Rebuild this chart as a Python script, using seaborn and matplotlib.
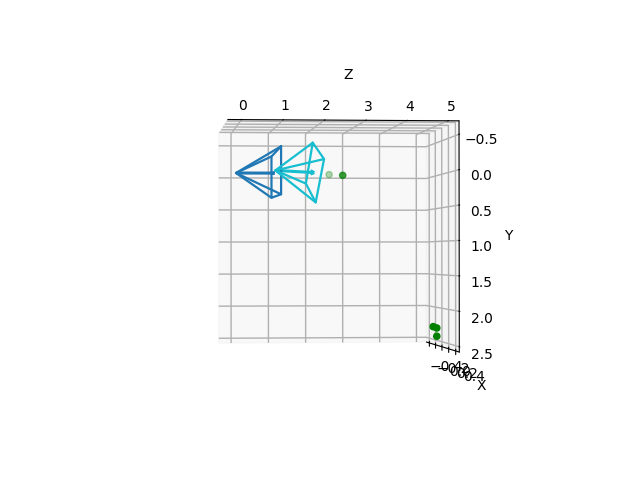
import matplotlib
matplotlib.use('Agg')
import matplotlib.pyplot as plt
import seaborn as sns

# frustum vertices (x, y, z): apex then four base corners
blue_apex = [0.0, -0.01, 0.0]
blue_base = [[0.27, -0.36, 1.04], [0.27, 0.33, 1.04], [-0.27, 0.33, 1.0], [-0.27, -0.3, 1.0]]
blue_arrow = [0.0, -0.01, 0.98]
cyan_apex = [0.0, -0.05, 1.0]
cyan_base = [[-0.2, -0.5, 2.05], [0.2, -0.19, 2.14], [0.2, 0.44, 1.93], [-0.2, 0.12, 1.87]]
cyan_arrow = [0.0, -0.02, 1.99]

point_x = [0.0, -0.3, 0.2, 0.2, 0.2]
point_y = [0.02, -0.03, 2.25, 2.27, 2.39]
point_z = [2.72, 2.53, 4.88, 4.97, 4.97]

x_ticks = [-0.4, -0.2, 0.0, 0.2, 0.4]
y_ticks = [-0.5, 0.0, 0.5, 1.0, 1.5, 2.0, 2.5]
z_ticks = [0, 1, 2, 3, 4, 5]


def draw_frustum(ax, apex, base, arrow, color):
    for corner in base:
        ax.plot(*zip(apex, corner), color=color, linewidth=1.6)
    loop = base + [base[0]]
    ax.plot(*zip(*loop), color=color, linewidth=1.6)
    ax.quiver(*apex, arrow[0] - apex[0], arrow[1] - apex[1], arrow[2] - apex[2],
              color=color, linewidth=2.2, arrow_length_ratio=0.1)


def main():
    sns.set_style('white', {'grid.color': '#b0b0b0', 'text.color': 'black',
                            'axes.labelcolor': 'black', 'xtick.color': 'black',
                            'ytick.color': 'black', 'axes.edgecolor': 'black'})
    plt.rcParams['font.family'] = ['DejaVu Sans']
    plt.rcParams['grid.linewidth'] = 1.0
    palette = sns.color_palette('tab10')
    fig = plt.figure(figsize=(6.4, 4.8), dpi=100)
    ax = fig.add_subplot(projection='3d')
    draw_frustum(ax, blue_apex, blue_base, blue_arrow, palette[0])
    draw_frustum(ax, cyan_apex, cyan_base, cyan_arrow, palette[9])
    ax.scatter(point_x, point_y, point_z, color='green')
    ax.set_xlabel('X')
    ax.set_ylabel('Y')
    ax.set_zlabel('Z')
    ax.set_xticks(x_ticks)
    ax.set_yticks(y_ticks)
    ax.set_zticks(z_ticks)
    ax.set_xlim(-0.5, 0.5)
    ax.set_ylim(-0.69, 2.575)
    ax.set_zlim(-0.33, 5.27)
    ax.set_box_aspect((1, 1, 1))
    ax.view_init(elev=-5.5, azim=0.5, roll=-90)
    fig.savefig('out.png', dpi=100)


if __name__ == "__main__":
    main()
